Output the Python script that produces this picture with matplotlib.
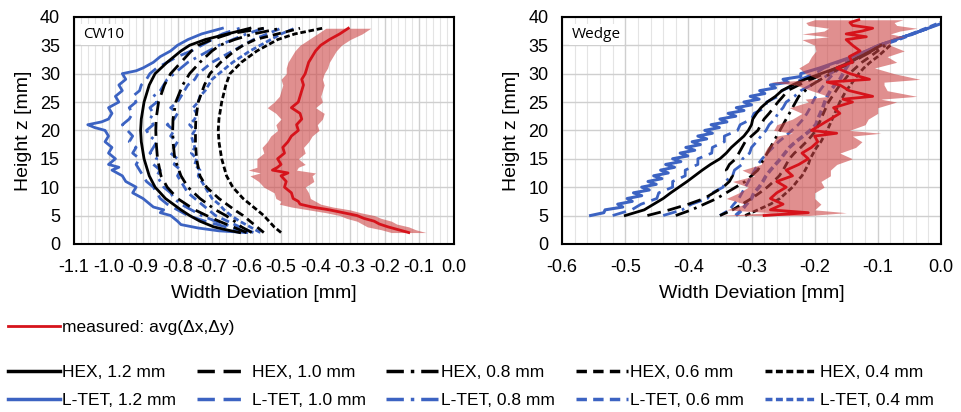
import numpy as np
import matplotlib.pyplot as plt
from matplotlib.lines import Line2D

plt.rcParams['font.family'] = ['Liberation Sans', 'DejaVu Sans']

black = '#000000'
blue = '#3c63c2'
red = '#d6131b'
band = '#cc4545'

series_names = ['1.2 mm', '1.0 mm', '0.8 mm', '0.6 mm', '0.4 mm']
dash_styles = ['-', (0, (5, 2.5)), (0, (5, 2, 1, 2)), (0, (3, 1.8)), (0, (2.0, 1.0))]

# ---------------- CW10 ----------------
cw_z_hex = [2, 2.5, 3, 4, 5, 6, 8, 10, 12, 15, 18, 20, 22, 25, 28, 30, 32, 34, 35, 36, 37, 38]
cw_hex12 = [-0.62, -0.66, -0.695, -0.735, -0.765, -0.79, -0.835, -0.865, -0.882, -0.897, -0.905, -0.907,
            -0.905, -0.897, -0.882, -0.865, -0.83, -0.79, -0.765, -0.72, -0.655, -0.59]
cw_hex10 = [-0.60, -0.62, -0.64, -0.68, -0.716, -0.75, -0.80, -0.83, -0.848, -0.858, -0.862, -0.863,
            -0.862, -0.855, -0.838, -0.82, -0.79, -0.76, -0.74, -0.70, -0.65, -0.55]
cw_hex08 = [-0.585, -0.60, -0.615, -0.635, -0.66, -0.69, -0.735, -0.77, -0.79, -0.808, -0.813, -0.814,
            -0.813, -0.805, -0.785, -0.765, -0.735, -0.70, -0.677, -0.635, -0.58, -0.50]
cw_hex06 = [-0.55, -0.56, -0.57, -0.59, -0.61, -0.635, -0.68, -0.716, -0.735, -0.745, -0.748, -0.748,
            -0.747, -0.74, -0.722, -0.706, -0.675, -0.635, -0.61, -0.575, -0.51, -0.445]
cw_hex04 = [-0.50, -0.51, -0.52, -0.535, -0.55, -0.57, -0.61, -0.64, -0.658, -0.672, -0.68, -0.682,
            -0.68, -0.672, -0.66, -0.648, -0.615, -0.57, -0.54, -0.51, -0.46, -0.38]

cw_z_tet12 = [2.0, 2.3, 2.8, 3.4, 4, 5, 5.5, 6, 6.5, 7, 8, 9, 10, 11, 12, 13, 13.5, 14, 15, 16, 17, 18,
              19, 20, 20.5, 21, 21.5, 22, 23, 24, 25, 26, 27, 28, 29, 30, 30.5, 31, 32, 33, 34, 35, 36,
              37, 37.5, 38]
cw_tet12 = [-0.60, -0.68, -0.74, -0.79, -0.80, -0.82, -0.85, -0.84, -0.87, -0.88, -0.90, -0.93, -0.92,
            -0.95, -0.96, -0.99, -0.97, -1.00, -0.98, -1.00, -0.99, -1.01, -1.00, -1.01, -1.04, -1.06,
            -1.02, -1.00, -0.99, -1.00, -0.97, -0.98, -0.96, -0.97, -0.95, -0.96, -0.92, -0.90, -0.87,
            -0.85, -0.82, -0.80, -0.77, -0.73, -0.70, -0.67]

cw_z_tet = list(range(2, 39))
cw_tet10 = [-0.60, -0.66, -0.72, -0.77, -0.80, -0.83, -0.85, -0.86, -0.87, -0.89, -0.90, -0.91, -0.92,
            -0.91, -0.93, -0.92, -0.94, -0.93, -0.945, -0.96, -0.94, -0.93, -0.94, -0.92, -0.93, -0.91,
            -0.905, -0.89, -0.88, -0.86, -0.83, -0.80, -0.76, -0.73, -0.70, -0.67, -0.62]
cw_tet08 = [-0.60, -0.64, -0.69, -0.73, -0.76, -0.79, -0.81, -0.82, -0.84, -0.85, -0.86, -0.85, -0.87,
            -0.86, -0.88, -0.87, -0.86, -0.88, -0.89, -0.87, -0.88, -0.87, -0.88, -0.86, -0.87, -0.85,
            -0.84, -0.83, -0.81, -0.79, -0.77, -0.74, -0.71, -0.68, -0.64, -0.60, -0.55]
cw_tet06 = [-0.58, -0.62, -0.655, -0.69, -0.71, -0.73, -0.75, -0.77, -0.78, -0.79, -0.80, -0.79, -0.81,
            -0.80, -0.82, -0.81, -0.80, -0.82, -0.81, -0.83, -0.81, -0.80, -0.82, -0.80, -0.79, -0.78,
            -0.77, -0.75, -0.74, -0.72, -0.70, -0.67, -0.64, -0.61, -0.58, -0.54, -0.50]
cw_tet04 = [-0.56, -0.59, -0.62, -0.645, -0.665, -0.68, -0.70, -0.71, -0.72, -0.73, -0.74, -0.735, -0.75,
            -0.745, -0.76, -0.75, -0.755, -0.76, -0.75, -0.765, -0.75, -0.745, -0.755, -0.74, -0.735,
            -0.72, -0.71, -0.70, -0.68, -0.66, -0.64, -0.615, -0.59, -0.56, -0.53, -0.50, -0.46]

cw_z_meas = [2, 2.5, 3, 3.5, 4, 4.5, 5, 5.5, 6, 6.5, 7, 7.5, 8, 9, 10, 11, 12, 12.5, 13, 13.5, 14, 15,
             16, 17, 18, 19, 20, 21, 22, 23, 24, 25, 26, 27, 28, 29, 30, 31, 32, 33, 34, 35, 36, 37, 38]
cw_meas = [-0.13, -0.16, -0.19, -0.215, -0.23, -0.26, -0.28, -0.32, -0.36, -0.41, -0.445, -0.45, -0.465,
           -0.47, -0.49, -0.485, -0.50, -0.48, -0.525, -0.51, -0.50, -0.51, -0.49, -0.495, -0.48, -0.47,
           -0.45, -0.455, -0.44, -0.445, -0.47, -0.45, -0.445, -0.44, -0.435, -0.44, -0.43, -0.425, -0.42,
           -0.41, -0.40, -0.385, -0.36, -0.33, -0.305]
cw_spread = [0.05, 0.05, 0.06, 0.05, 0.05, 0.05, 0.05, 0.05, 0.06, 0.06, 0.06, 0.05, 0.05, 0.05, 0.06,
             0.08, 0.09, 0.08, 0.07, 0.06, 0.07, 0.06, 0.06, 0.06, 0.06, 0.06, 0.06, 0.06, 0.06, 0.07,
             0.07, 0.07, 0.06, 0.06, 0.06, 0.06, 0.055, 0.06, 0.06, 0.06, 0.06, 0.06, 0.06, 0.065, 0.065]

# ---------------- Wedge ----------------
wd_z = list(range(5, 36))
wd_hex12 = [-0.50, -0.47, -0.455, -0.44, -0.428, -0.415, -0.402, -0.39, -0.378, -0.365, -0.35, -0.34,
            -0.332, -0.322, -0.312, -0.305, -0.30, -0.298, -0.292, -0.285, -0.275, -0.262, -0.252,
            -0.235, -0.215, -0.19, -0.165, -0.145, -0.128, -0.11, -0.095]
wd_hex10 = [-0.465, -0.43, -0.40, -0.375, -0.36, -0.345, -0.335, -0.33, -0.34, -0.335, -0.325, -0.32,
            -0.315, -0.31, -0.30, -0.29, -0.285, -0.28, -0.272, -0.265, -0.258, -0.25, -0.243, -0.225,
            -0.205, -0.185, -0.165, -0.145, -0.128, -0.11, -0.095]
wd_hex08 = [-0.42, -0.395, -0.375, -0.355, -0.34, -0.325, -0.31, -0.30, -0.29, -0.285, -0.28, -0.275,
            -0.27, -0.265, -0.26, -0.255, -0.25, -0.245, -0.24, -0.235, -0.23, -0.225, -0.215, -0.205,
            -0.19, -0.175, -0.16, -0.14, -0.125, -0.108, -0.09]
wd_hex06 = [-0.35, -0.33, -0.315, -0.30, -0.287, -0.275, -0.265, -0.256, -0.25, -0.245, -0.24, -0.232,
            -0.222, -0.213, -0.205, -0.198, -0.194, -0.19, -0.186, -0.182, -0.178, -0.172, -0.166, -0.16,
            -0.152, -0.145, -0.135, -0.125, -0.112, -0.10, -0.088]
wd_hex04 = [-0.31, -0.29, -0.27, -0.255, -0.245, -0.235, -0.228, -0.22, -0.215, -0.21, -0.207, -0.202,
            -0.197, -0.19, -0.185, -0.18, -0.176, -0.172, -0.168, -0.164, -0.16, -0.155, -0.15, -0.143,
            -0.137, -0.13, -0.122, -0.112, -0.10, -0.09, -0.08]

wd_z_tet12 = [5, 5.5, 6, 6.5, 7, 7.5, 8, 8.5, 9, 9.5, 10, 10.5, 11, 11.5, 12, 12.5, 13, 13.5, 14, 14.5,
              15, 15.5, 16, 16.5, 17, 17.5, 18, 18.5, 19, 19.5, 20, 20.5, 21, 21.5, 22, 22.5, 23, 23.5,
              24, 24.5, 25, 25.5, 26, 26.5, 27, 27.5, 28, 28.5, 29, 29.5, 30, 31, 32, 33, 34, 35, 36,
              37, 38, 38.8]
wd_tet12 = [-0.555, -0.534, -0.532, -0.504, -0.512, -0.489, -0.497, -0.474, -0.487, -0.462, -0.474,
            -0.451, -0.464, -0.442, -0.455, -0.432, -0.444, -0.422, -0.436, -0.412, -0.425, -0.401,
            -0.413, -0.390, -0.404, -0.381, -0.394, -0.371, -0.385, -0.362, -0.374, -0.351, -0.364,
            -0.339, -0.350, -0.325, -0.337, -0.312, -0.324, -0.300, -0.312, -0.288, -0.302, -0.279,
            -0.287, -0.262, -0.270, -0.242, -0.250, -0.222, -0.222, -0.192, -0.166, -0.140, -0.118,
            -0.098, -0.072, -0.045, -0.020, 0.0]

wd_z_tet = list(range(5, 39))
wd_tet10 = [-0.52, -0.49, -0.475, -0.45, -0.447, -0.425, -0.425, -0.405, -0.405, -0.385, -0.385, -0.363,
            -0.362, -0.343, -0.343, -0.322, -0.318, -0.300, -0.296, -0.278, -0.276, -0.258, -0.252,
            -0.232, -0.222, -0.200, -0.185, -0.162, -0.140, -0.118, -0.098, -0.072, -0.045, -0.02]
wd_tet08 = [-0.44, -0.41, -0.395, -0.37, -0.362, -0.345, -0.342, -0.33, -0.327, -0.315, -0.314, -0.303,
            -0.30, -0.292, -0.285, -0.277, -0.272, -0.263, -0.258, -0.25, -0.245, -0.232, -0.222, -0.205,
            -0.19, -0.175, -0.16, -0.145, -0.13, -0.115, -0.098, -0.072, -0.045, -0.02]
wd_tet06 = [-0.35, -0.335, -0.328, -0.32, -0.315, -0.31, -0.305, -0.30, -0.295, -0.29, -0.283, -0.275,
            -0.266, -0.257, -0.246, -0.236, -0.226, -0.218, -0.212, -0.207, -0.203, -0.198, -0.192,
            -0.185, -0.178, -0.17, -0.16, -0.15, -0.135, -0.118, -0.098, -0.072, -0.045, -0.02]
wd_z_tet04 = list(range(5, 40))
wd_tet04 = [-0.325, -0.315, -0.308, -0.30, -0.296, -0.288, -0.282, -0.277, -0.27, -0.262, -0.254, -0.247,
            -0.24, -0.23, -0.218, -0.207, -0.198, -0.195, -0.191, -0.187, -0.184, -0.18, -0.175, -0.168,
            -0.16, -0.155, -0.15, -0.144, -0.13, -0.115, -0.095, -0.068, -0.045, -0.022, 0.0]

wd_z_meas = [5, 5.5, 6, 7, 8, 9, 10, 11, 12, 13, 14, 15, 16, 17, 18, 19, 19.5, 20, 21, 22, 23, 24, 25,
             25.5, 26, 27, 28, 28.5, 29, 30, 31, 32, 33, 34, 35, 36, 36.5, 37, 37.5, 38, 38.5, 39, 39.5]
wd_meas = [-0.28, -0.21, -0.27, -0.25, -0.27, -0.26, -0.245, -0.26, -0.235, -0.245, -0.225, -0.21, -0.22,
           -0.205, -0.195, -0.20, -0.165, -0.205, -0.19, -0.175, -0.16, -0.17, -0.14, -0.155, -0.108,
           -0.145, -0.16, -0.18, -0.113, -0.144, -0.165, -0.14, -0.145, -0.128, -0.14, -0.15, -0.118,
           -0.15, -0.125, -0.108, -0.14, -0.144, -0.13]
wd_spread = [0.07, 0.06, 0.07, 0.06, 0.07, 0.06, 0.06, 0.07, 0.06, 0.07, 0.06, 0.07, 0.06, 0.07, 0.07,
             0.06, 0.07, 0.06, 0.07, 0.06, 0.06, 0.07, 0.07, 0.06, 0.07, 0.06, 0.07, 0.09, 0.08, 0.07,
             0.06, 0.07, 0.06, 0.07, 0.06, 0.07, 0.06, 0.07, 0.06, 0.07, 0.07, 0.07, 0.07]

cw_xticks = [-1.1, -1.0, -0.9, -0.8, -0.7, -0.6, -0.5, -0.4, -0.3, -0.2, -0.1, 0.0]
wd_xticks = [-0.6, -0.5, -0.4, -0.3, -0.2, -0.1, 0.0]
z_ticks = [0, 5, 10, 15, 20, 25, 30, 35, 40]


def style_axis(ax, xticks, title):
    ax.set_xlim(xticks[0], xticks[-1])
    ax.set_ylim(0, 40)
    ax.set_xticks(xticks, ['%.1f' % t for t in xticks])
    ax.set_xticks(np.arange(xticks[0], xticks[-1] + 1e-9, 0.02), minor=True)
    ax.set_yticks(z_ticks, [str(t) for t in z_ticks])
    ax.tick_params(which='both', length=0, labelsize=13)
    ax.tick_params(axis='x', pad=11)
    ax.tick_params(axis='y', pad=10)
    ax.grid(which='major', color='#cfcfcf', lw=1.0, zorder=0)
    ax.grid(which='minor', axis='x', color='#e4e4e4', lw=0.8, zorder=0)
    ax.set_axisbelow(True)
    for sp in ax.spines.values():
        sp.set_linewidth(1.5)
    ax.set_xlabel('Width Deviation [mm]', fontsize=14, labelpad=6)
    ax.set_ylabel('Height z [mm]', fontsize=14, labelpad=6)
    ax.text(0.025, 0.955, title, transform=ax.transAxes, ha='left', va='top', fontsize=11,
            family=['Open Sans', 'DejaVu Sans'],
            bbox=dict(facecolor='white', edgecolor='none', pad=2), zorder=5)


def draw_panel(ax, hex_z, hex_list, tet_list, meas_z, meas, spread, tet_lw):
    for (z, x), ls, lw in zip(tet_list, dash_styles, tet_lw):
        ax.plot(x, z, color=blue, ls=ls, lw=lw, zorder=2)
    for x, ls in zip(hex_list, dash_styles):
        ax.plot(x, hex_z, color=black, ls=ls, lw=2.0, zorder=3)
    c = np.array(meas)
    s = np.array(spread)
    ax.fill_betweenx(meas_z, c - s, c + s, color=band, alpha=0.6, lw=0, zorder=4)
    ax.plot(meas, meas_z, color=red, lw=2.0, zorder=5)


fig = plt.figure(figsize=(9.61, 4.12), dpi=100)
ax1 = fig.add_axes([0.077, 0.408, 0.395, 0.551])
ax2 = fig.add_axes([0.585, 0.408, 0.394, 0.551])

draw_panel(ax1, cw_z_hex, [cw_hex12, cw_hex10, cw_hex08, cw_hex06, cw_hex04],
           [(cw_z_tet12, cw_tet12), (cw_z_tet, cw_tet10), (cw_z_tet, cw_tet08),
            (cw_z_tet, cw_tet06), (cw_z_tet, cw_tet04)],
           cw_z_meas, cw_meas, cw_spread, [2.0, 2.0, 2.0, 2.0, 2.0])
draw_panel(ax2, wd_z, [wd_hex12, wd_hex10, wd_hex08, wd_hex06, wd_hex04],
           [(wd_z_tet12, wd_tet12), (wd_z_tet, wd_tet10), (wd_z_tet, wd_tet08),
            (wd_z_tet, wd_tet06), (wd_z_tet04, wd_tet04)],
           wd_z_meas, wd_meas, wd_spread, [2.2, 2.0, 2.0, 2.0, 2.6])

style_axis(ax1, cw_xticks, 'CW10')
style_axis(ax2, wd_xticks, 'Wedge')

# legend rows underneath the panels
leg_font = dict(family=['Liberation Sans', 'DejaVu Sans'], size=12.5)
col_x = [0.008, 0.205, 0.402, 0.599, 0.796]


def put_entry(handle, label, x, y):
    fig.legend(handles=[handle], labels=[label], loc='center left', bbox_to_anchor=(x, y),
               frameon=False, borderaxespad=0, borderpad=0, handlelength=3.0,
               handletextpad=0.15, prop=leg_font)


put_entry(Line2D([], [], color=red, lw=2.0), 'measured: avg(\u0394x,\u0394y)', col_x[0], 0.205)
for i, name in enumerate(series_names):
    put_entry(Line2D([], [], color=black, lw=2.5, ls=dash_styles[i]), 'HEX, ' + name, col_x[i], 0.097)
    put_entry(Line2D([], [], color=blue, lw=2.5, ls=dash_styles[i]), 'L-TET, ' + name, col_x[i], 0.029)

fig.savefig('out.png', dpi=100)
